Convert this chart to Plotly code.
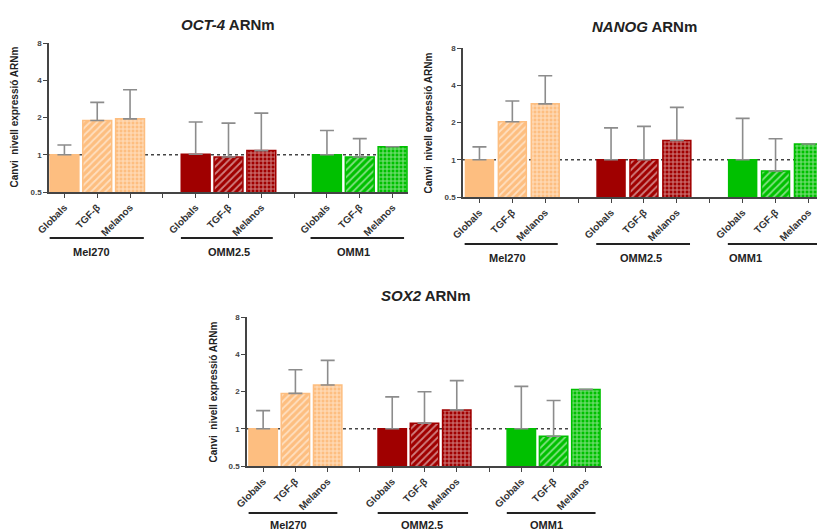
import plotly.graph_objects as go

W, H = 817, 532

categories = ["Globals", "TGF-β", "Melanos"]
groups = ["Mel270", "OMM2.5", "OMM1"]

oct4_values = [1.00, 1.89, 1.95, 1.01, 0.96, 1.08, 1.00, 0.96, 1.16]
oct4_upper = [1.20, 2.65, 3.35, 1.84, 1.80, 2.17, 1.57, 1.35, 1.16]

nanog_values = [1.00, 2.03, 2.83, 1.00, 1.00, 1.43, 1.00, 0.81, 1.34]
nanog_upper = [1.27, 2.98, 4.77, 1.81, 1.86, 2.65, 2.16, 1.48, 1.34]

sox2_values = [1.00, 1.93, 2.26, 1.00, 1.11, 1.42, 1.00, 0.87, 2.08]
sox2_upper = [1.40, 3.00, 3.57, 1.81, 1.99, 2.45, 2.20, 1.69, 2.08]

y_ticks = [0.5, 1, 2, 4, 8]
y_ticktext = ["0.5", "1", "2", "4", "8"]

group_colors = ["#FDBE80", "#A00000", "#00C000"]
patterns = ["", "/", "+"]

positions = [0, 1, 2, 4, 5, 6, 8, 9, 10]
tick_positions = list(range(11))
tick_text = ["Globals", "TGF-β", "Melanos", "", "Globals", "TGF-β", "Melanos", "",
             "Globals", "TGF-β", "Melanos"]

FONT = "Liberation Sans, Arial, sans-serif"

charts = [
    dict(title="<i>OCT-4</i> ARNm", vals=oct4_values, up=oct4_upper,
         box=(49, 408, 43, 192), xr=[-0.47, 10.47], bw=0.88,
         title_xy=(228, 24), ytitle_x=14,
         line_y=238, label_y=252,
         glines=[(-0.45, 2.42), (3.55, 6.35), (7.5, 10.35)],
         glabels=[0.82, 5.0, 8.8]),
    dict(title="<i>NANOG</i> ARNm", vals=nanog_values, up=nanog_upper,
         box=(463, 817, 48, 197), xr=[-0.5, 10.26], bw=0.85,
         title_xy=(644, 27), ytitle_x=428,
         line_y=244, label_y=258,
         glines=[(-0.45, 2.38), (3.55, 6.4), (7.55, 10.5)],
         glabels=[0.85, 4.92, 8.09]),
    dict(title="<i>SOX2</i> ARNm", vals=sox2_values, up=sox2_upper,
         box=(247, 602, 317, 466), xr=[-0.5, 10.5], bw=0.88,
         title_xy=(425, 295), ytitle_x=213,
         line_y=513, label_y=525,
         glines=[(-0.45, 2.3), (3.55, 6.35), (7.55, 10.3)],
         glabels=[0.8, 4.91, 8.79]),
]

fig = go.Figure()
layout = dict(width=W, height=H, margin=dict(l=0, r=0, t=0, b=0, pad=0),
              autosize=False,
              paper_bgcolor="white", plot_bgcolor="rgba(0,0,0,0)",
              showlegend=False, shapes=[], annotations=[],
              font=dict(family=FONT, color="#333"))

for i, c in enumerate(charts):
    sfx = "" if i == 0 else str(i + 1)
    xa, ya = "x" + sfx, "y" + sfx
    x0, x1, yt, yb = c["box"]
    for k in range(9):
        g = k // 3
        s = k % 3
        col = group_colors[g]
        marker = dict(color=col, line=dict(color=col, width=1.5))
        if patterns[s]:
            marker["pattern"] = dict(shape=patterns[s], bgcolor=col, fgcolor="white",
                                     size=5 if s == 1 else 4,
                                     solidity=0.35 if s == 1 else 0.45,
                                     fillmode="overlay")
        fig.add_trace(go.Bar(
            x=[positions[k]], y=[c["vals"][k]], width=c["bw"], marker=marker,
            xaxis=xa, yaxis=ya,
            error_y=dict(type="data", symmetric=False,
                         array=[c["up"][k] - c["vals"][k]], arrayminus=[0],
                         color="#8c8c8c", thickness=1.6, width=7)))
    layout["xaxis" + sfx] = dict(
        domain=[x0 / W, x1 / W], anchor=ya, range=c["xr"], automargin=False,
        tickmode="array", tickvals=tick_positions, ticktext=tick_text,
        tickangle=-45, ticks="outside", ticklen=4, tickwidth=1.2, tickcolor="#444",
        showline=True, linecolor="#444", linewidth=1.6, showgrid=False, zeroline=False,
        tickfont=dict(family=FONT, size=10, color="#333", weight="bold"))
    layout["yaxis" + sfx] = dict(
        domain=[1 - yb / H, 1 - yt / H], anchor=xa, type="log", automargin=False,
        range=[-0.30103, 0.90309], tickmode="array", tickvals=y_ticks,
        ticktext=y_ticktext, ticks="outside", ticklen=4, tickwidth=1.2,
        tickcolor="#444", showline=True, linecolor="#444", linewidth=1.6,
        showgrid=False, zeroline=False,
        tickfont=dict(family=FONT, size=8, color="#444", weight="bold"))
    layout["shapes"].append(dict(type="line", xref=xa + " domain", yref=ya,
                                 x0=0, x1=1, y0=1, y1=1, layer="below",
                                 line=dict(color="#444", width=1.4, dash="dot")))
    for (ga, gb), lx, name in zip(c["glines"], c["glabels"], groups):
        layout["shapes"].append(dict(type="line", xref=xa, yref="paper",
                                     x0=ga, x1=gb, y0=1 - c["line_y"] / H,
                                     y1=1 - c["line_y"] / H,
                                     line=dict(color="#222", width=2)))
        layout["annotations"].append(dict(
            text="<b>" + name + "</b>", xref=xa, yref="paper", x=lx,
            y=1 - c["label_y"] / H, showarrow=False, xanchor="center",
            yanchor="middle", font=dict(family=FONT, size=11, color="#222")))
    tx, ty = c["title_xy"]
    layout["annotations"].append(dict(
        text="<b>" + c["title"] + "</b>", xref="paper", yref="paper",
        x=tx / W, y=1 - ty / H, showarrow=False, xanchor="center", yanchor="middle",
        font=dict(family=FONT, size=15, color="#222")))
    layout["annotations"].append(dict(
        text="<b>Canvi  nivell expressió ARNm</b>", xref="paper", yref="paper",
        x=c["ytitle_x"] / W, y=1 - (yt + yb) / 2 / H, showarrow=False,
        textangle=-90, xanchor="center", yanchor="middle",
        font=dict(family=FONT, size=10, color="#222")))

fig.update_layout(**layout)
fig.write_html("out.html", config={"displayModeBar": False},
               post_script="document.body.style.margin='0';"
                           "document.body.style.overflow='hidden';")
